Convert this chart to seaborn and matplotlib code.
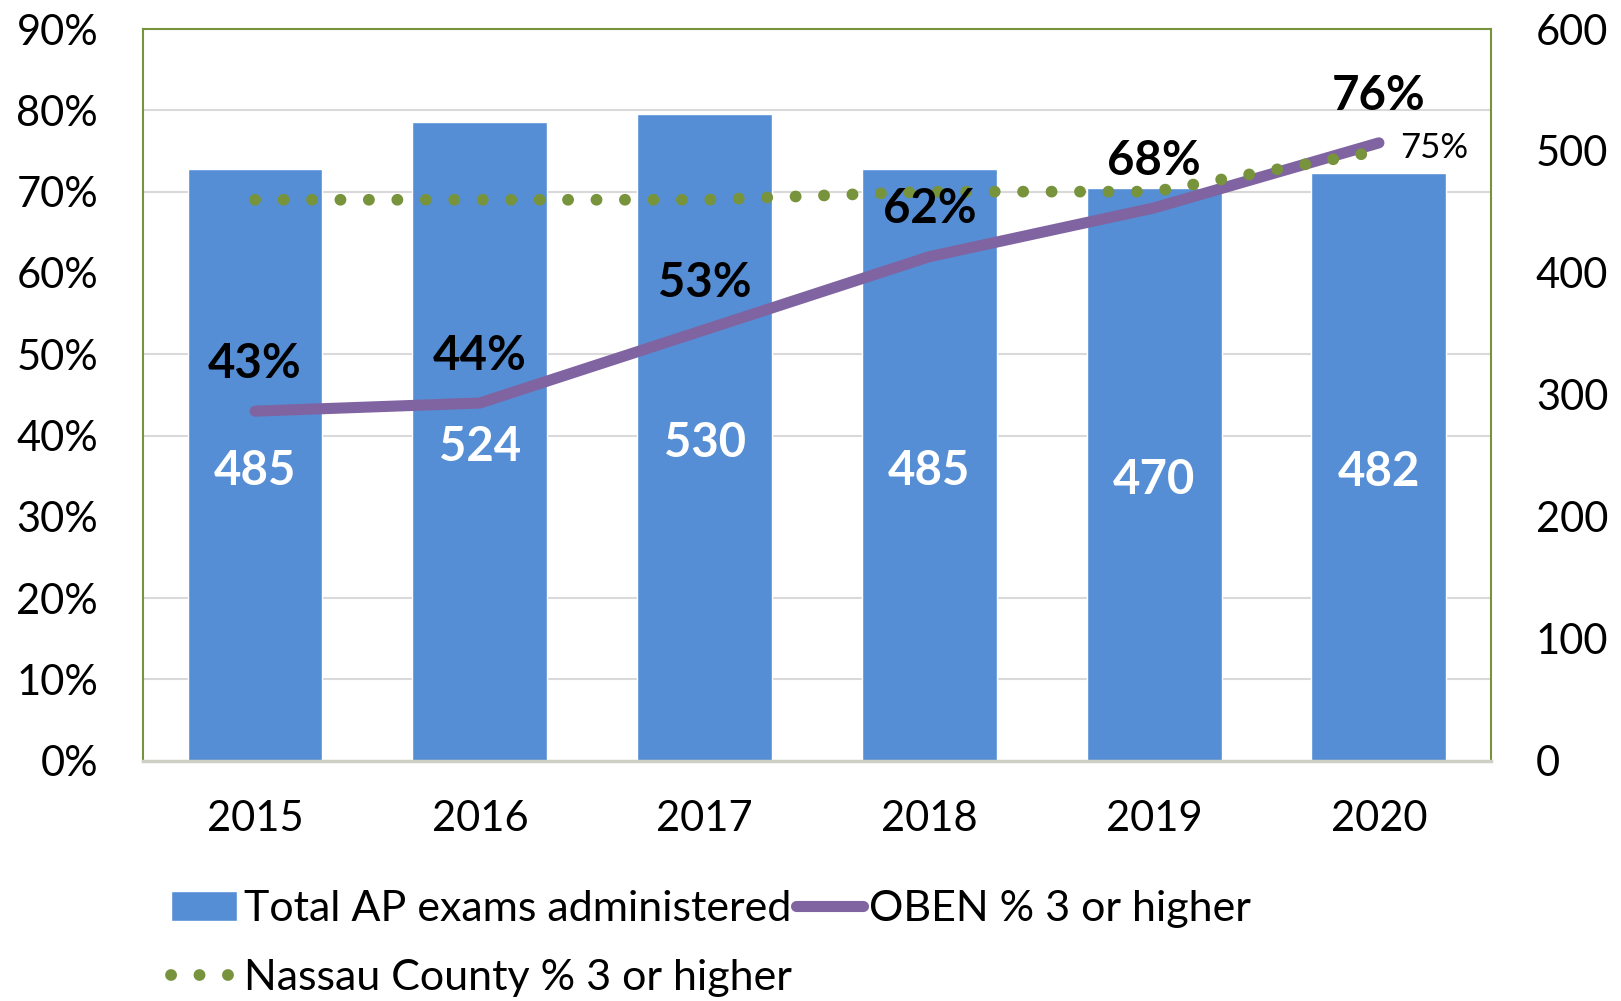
import matplotlib.pyplot as plt
import matplotlib.ticker as mticker
import seaborn as sns
import pandas as pd
import numpy as np

# values
years = [2015, 2016, 2017, 2018, 2019, 2020]
exams = [485, 524, 530, 485, 470, 482]
oben_pct = [0.43, 0.44, 0.53, 0.62, 0.68, 0.76]
nassau_pct = [0.69, 0.69, 0.69, 0.70, 0.70, 0.75]

df = pd.DataFrame({'year': years, 'exams': exams,
                   'oben': oben_pct, 'nassau': nassau_pct})

blue = '#558ED5'
purple = '#8064A2'
green = '#77933C'
grid_col = '#D9D9D9'

sns.set_theme(style='white')
plt.rcParams['font.family'] = ['Lato', 'DejaVu Sans']
plt.rcParams['text.color'] = 'black'
plt.rcParams['xtick.color'] = 'black'
plt.rcParams['ytick.color'] = 'black'

fig = plt.figure(figsize=(16.21, 10.01), dpi=100)
ax = fig.add_axes([0.088, 0.240, 0.832, 0.731])
ax2 = ax.twinx()

# bars on the right-hand axis (counts)
sns.barplot(data=df, x='year', y='exams', native_scale=True, width=0.6,
            color=blue, saturation=1, ax=ax, label='Total AP exams administered',
            zorder=2)
ax.bar_label(ax.containers[0], labels=[str(v) for v in exams], label_type='center',
             color='white', fontsize=34, fontweight='bold', padding=-4)

# lines on the left-hand axis (percent)
sns.lineplot(data=df, x='year', y='oben', color=purple, lw=8,
             solid_capstyle='round', ax=ax2, label='OBEN % 3 or higher')
sns.lineplot(data=df, x='year', y='nassau', color=green, lw=8.5,
             linestyle=(0, (0.01, 2.4)), dash_capstyle='round', ax=ax2,
             label='Nassau County % 3 or higher')

for y, v in zip(years, oben_pct):
    ax2.annotate(f'{v:.0%}', (y, v), xytext=(0, 34), textcoords='offset points',
                 ha='center', va='center', fontsize=34, fontweight='bold')
ax2.annotate(f'{nassau_pct[-1]:.0%}', (years[-1], nassau_pct[-1]), xytext=(15, 2),
             textcoords='offset points', ha='left', va='center', fontsize=25)

# axes setup
ax.set_xlim(2014.5, 2020.5)
ax.set_xticks(years)
ax.set_xticklabels([str(y) for y in years])
ax.set_ylim(0, 600)
ax.set_yticks(range(0, 601, 100))
ax.yaxis.set_minor_locator(mticker.LinearLocator(10))
ax.grid(which='minor', axis='y', color=grid_col, lw=1.5)
ax.set_axisbelow(True)
ax.yaxis.tick_right()
ax.tick_params(axis='y', which='both', length=0, labelsize=30, pad=32)
ax.tick_params(axis='x', length=0, labelsize=30, pad=28)
ax.set_xlabel('')
ax.set_ylabel('')

ax2.set_ylim(0, 0.9)
ax2.set_yticks(np.arange(0, 0.91, 0.1))
ax2.yaxis.set_major_formatter(mticker.PercentFormatter(1, decimals=0))
ax2.yaxis.tick_left()
ax2.tick_params(axis='y', length=0, labelsize=30, pad=32)
ax2.set_ylabel('')

for s in ['left', 'top', 'right']:
    ax.spines[s].set_color(green)
    ax.spines[s].set_linewidth(1.5)
ax.spines['bottom'].set_color('#CDD0C2')
ax.spines['bottom'].set_linewidth(2.5)
for s in ax2.spines.values():
    s.set_visible(False)

# legend
h1, l1 = ax.get_legend_handles_labels()
h2, l2 = ax2.get_legend_handles_labels()
for a in (ax, ax2):
    if a.get_legend() is not None:
        a.get_legend().remove()
handles = [h1[0], h2[1], h2[0]]
labels = [l1[0], l2[1], l2[0]]
fig.legend(handles, labels, ncol=2, loc='upper left', bbox_to_anchor=(0.092, 0.132),
           frameon=False, fontsize=31, handlelength=1.55, handletextpad=0.15,
           columnspacing=0.1, labelspacing=0.72, borderpad=0)

fig.savefig('out.png', dpi=100)
